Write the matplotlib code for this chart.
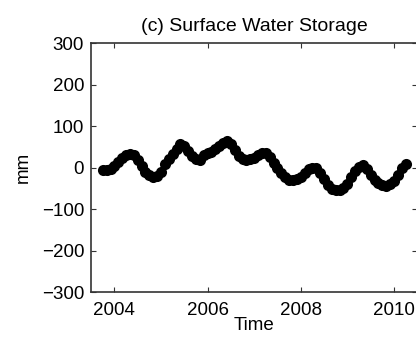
import numpy as np
import matplotlib.pyplot as plt

plt.rcParams['font.family'] = ['Liberation Sans', 'DejaVu Sans']

# monthly surface water storage anomaly (mm), starting Oct 2003
start_year = 2003
start_month = 10
storage = [-5, -6, -4, 3, 13, 24, 31, 33, 29, 18, 3, -10,
           -19, -23, -20, -10, 8, 20, 33, 45, 56, 52, 40, 28,
           20, 18, 30, 35, 38, 44, 52, 60, 65, 57, 42, 28,
           20, 18, 20, 24, 30, 35, 34, 26, 12, -2, -14, -24,
           -29, -31, -28, -22, -12, -4, 0, -2, -12, -28, -42, -51,
           -55, -54, -50, -40, -22, -8, 2, 6, -4, -18, -30, -38,
           -42, -44, -40, -32, -18, -2, 8]

storage = np.array(storage)
time = start_year + (start_month - 1) / 12 + np.arange(len(storage)) / 12

fig = plt.figure(figsize=(4.16, 3.37), dpi=100)
ax = fig.add_axes([0.219, 0.1335, 0.784, 0.7388])

ax.plot(time, storage, 'o', color='black', markersize=8, markeredgewidth=0)

fs = 13.5
ax.set_xlim(2003.5, 2010.5)
ax.set_ylim(-300, 300)
ax.set_xticks([2004, 2006, 2008, 2010])
ax.set_yticks([-300, -200, -100, 0, 100, 200, 300])
ax.tick_params(direction='in', length=3.5, top=True, right=True, labelsize=fs,
               color='#333333')
ax.tick_params(axis='x', pad=7)
ax.tick_params(axis='y', pad=5)
for s in ax.spines.values():
    s.set_color('#333333')
    s.set_linewidth(1.2)

ax.set_title('(c) Surface Water Storage', fontsize=14, pad=9)
ax.set_ylabel('mm', fontsize=fs, labelpad=7)
ax.set_xlabel('Time', fontsize=fs, labelpad=-1)

fig.savefig('out.png', dpi=100)
